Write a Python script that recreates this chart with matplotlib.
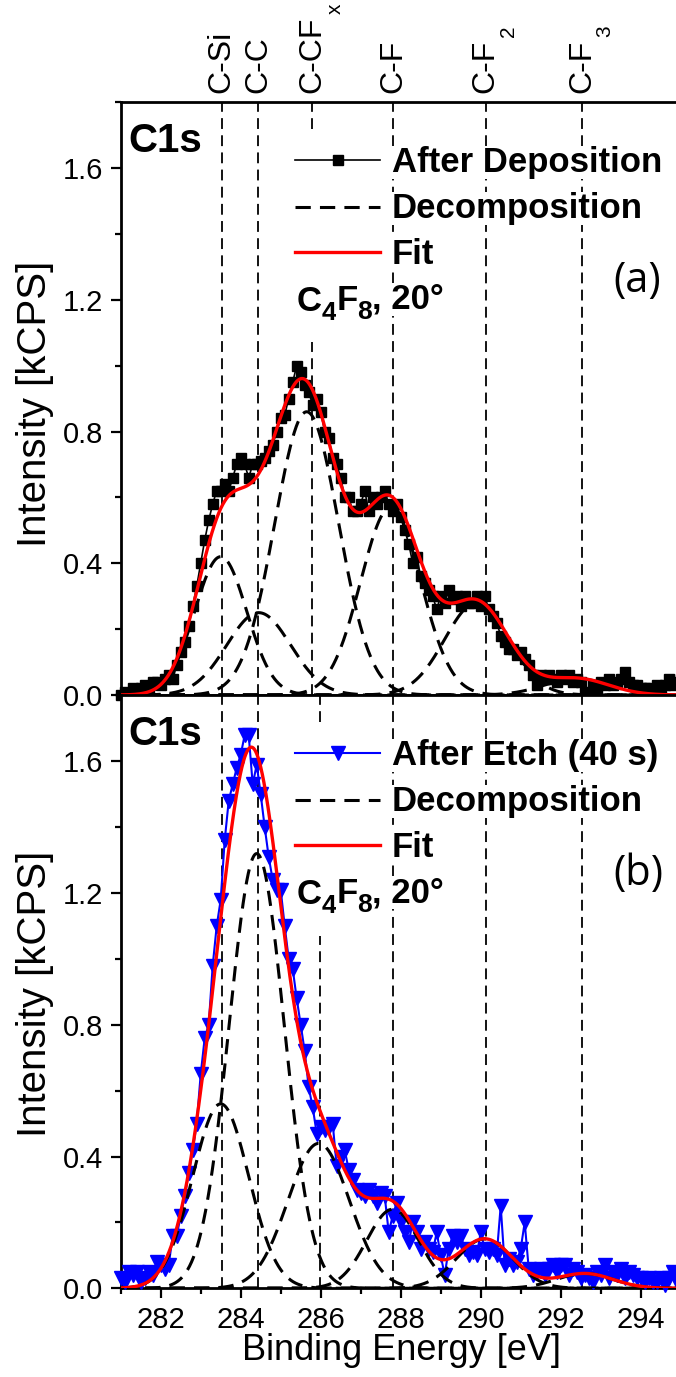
import numpy as np
import matplotlib
matplotlib.use("Agg")
import matplotlib.pyplot as plt
from matplotlib.ticker import MultipleLocator, FormatStrFormatter

plt.rcParams['font.family'] = ['Liberation Sans', 'DejaVu Sans']

# ---------------- data ----------------
energy = np.round(np.arange(281.0, 295.05, 0.1), 1)   # binding energy grid [eV]

# C1s after deposition (kCPS)
dep_counts = [
    0.00, 0.01, 0.00, 0.02, 0.015, 0.02, 0.03, 0.02, 0.04, 0.04,
    0.03, 0.05, 0.06, 0.05, 0.09, 0.13, 0.16, 0.21, 0.27, 0.33,
    0.40, 0.47, 0.53, 0.58, 0.62, 0.62, 0.64, 0.62, 0.66, 0.70,
    0.72, 0.70, 0.66, 0.70, 0.70, 0.71, 0.72, 0.74, 0.76, 0.80,
    0.84, 0.85, 0.90, 0.95, 1.00, 0.98, 0.94, 0.92, 0.88, 0.90,
    0.86, 0.80, 0.78, 0.72, 0.70, 0.66, 0.60, 0.60, 0.56, 0.56,
    0.58, 0.62, 0.56, 0.60, 0.58, 0.60, 0.62, 0.58, 0.56, 0.58,
    0.54, 0.50, 0.46, 0.40, 0.42, 0.36, 0.34, 0.32, 0.30, 0.26,
    0.30, 0.28, 0.32, 0.29, 0.30, 0.27, 0.30, 0.28, 0.28, 0.30,
    0.27, 0.30, 0.26, 0.24, 0.22, 0.18, 0.16, 0.14, 0.14, 0.12,
    0.13, 0.11, 0.09, 0.06, 0.03, 0.06, 0.05, 0.06, 0.05, 0.04,
    0.06, 0.05, 0.06, 0.04, 0.05, 0.04, 0.01, 0.00, 0.03, 0.02,
    0.04, 0.03, 0.05, 0.03, 0.04, 0.05, 0.07, 0.04, 0.03, 0.03,
    0.02, 0.02, 0.02, 0.01, 0.03, 0.02, 0.03, 0.05, 0.03, 0.04,
    0.05,
]

# C1s after etch, 40 s (kCPS)
etch_counts = [
    0.03, 0.02, 0.05, 0.04, 0.05, 0.02, 0.03, 0.05, 0.04, 0.08,
    0.07, 0.06, 0.07, 0.16, 0.16, 0.22, 0.28, 0.35, 0.42, 0.50,
    0.65, 0.76, 0.80, 0.98, 1.10, 1.18, 1.36, 1.48, 1.53, 1.58,
    1.62, 1.68, 1.68, 1.53, 1.59, 1.50, 1.40, 1.31, 1.24, 1.21,
    1.21, 1.10, 1.00, 0.97, 0.88, 0.80, 0.72, 0.61, 0.55, 0.47,
    0.49, 0.48, 0.49, 0.50, 0.37, 0.40, 0.42, 0.36, 0.33, 0.30,
    0.29, 0.28, 0.30, 0.28, 0.26, 0.29, 0.28, 0.17, 0.22, 0.26,
    0.20, 0.17, 0.14, 0.20, 0.17, 0.12, 0.14, 0.12, 0.11, 0.17,
    0.10, 0.04, 0.12, 0.16, 0.14, 0.16, 0.12, 0.10, 0.11, 0.10,
    0.17, 0.12, 0.11, 0.12, 0.10, 0.25, 0.07, 0.09, 0.07, 0.08,
    0.12, 0.20, 0.06, 0.04, 0.05, 0.06, 0.04, 0.06, 0.07, 0.05,
    0.07, 0.07, 0.04, 0.06, 0.05, 0.03, 0.04, 0.03, 0.02, 0.05,
    0.04, 0.07, 0.03, 0.05, 0.04, 0.06, 0.03, 0.05, 0.04, 0.03,
    0.03, 0.02, 0.03, 0.02, 0.02, 0.03, 0.01, 0.03, 0.05, 0.02,
    0.03,
]

# Gaussian decomposition: centre [eV], height [kCPS], FWHM [eV]
comp_center_a = [283.50, 284.45, 285.65, 287.75, 289.90, 292.40]
comp_height_a = [0.42, 0.25, 0.86, 0.57, 0.28, 0.05]
comp_fwhm_a = [1.53, 1.88, 1.88, 1.77, 1.88, 1.88]

comp_center_b = [283.50, 284.40, 285.95, 287.80, 290.10, 292.60]
comp_height_b = [0.56, 1.32, 0.44, 0.24, 0.15, 0.045]
comp_fwhm_b = [1.65, 1.62, 1.81, 1.53, 1.65, 1.65]

# chemical-state reference positions
bond_names = ['C-Si', 'C-C', 'C-CF', 'C-F', 'C-F', 'C-F']
bond_subs = ['', '', 'x', '', '2', '3']
bond_pos_a = [283.52, 284.44, 285.78, 287.81, 290.12, 292.53]
bond_pos_b = [283.52, 284.44, 285.97, 287.81, 290.12, 292.53]

legend_labels_a = ['After Deposition', 'Decomposition', 'Fit']
legend_labels_b = ['After Etch (40 s)', 'Decomposition', 'Fit']
# gas / angle note, written as (text, is_subscript) pieces
gas_note = [('C', False), ('4', True), ('F', False), ('8', True),
            (', 20°', False)]


def gauss(x, c, h, fwhm):
    return h * np.exp(-4.0 * np.log(2.0) * (x - c) ** 2 / fwhm ** 2)


# ---------------- layout ----------------
W, H = 676, 1377
fig = plt.figure(figsize=(W / 100, H / 100), dpi=100)
ax_left = 120.7 / W
ax_w = 560.0 / W
ax_h = 592.8 / H
ax_a = fig.add_axes([ax_left, 1 - 695.0 / H, ax_w, ax_h])
ax_b = fig.add_axes([ax_left, 1 - 1288.3 / H, ax_w, ax_h])

grid = np.linspace(281.0, 295.0, 1401)
AX_PX = 592.8
BOX = dict(boxstyle='square,pad=0.0', facecolor='white', edgecolor='none')


def fy(px):
    """axes-fraction height for a distance in pixels below the top spine"""
    return 1.0 - px / AX_PX


def gas_text(ax, x, y, size=25, sub_size=19, drop=7.0):
    """bold text with real subscripts, chained piece by piece"""
    desc_main = 0.212 * size
    desc_sub = 0.212 * sub_size
    prev = ax.text(x, y, gas_note[0][0], transform=ax.transAxes,
                   fontsize=size, fontweight='bold', ha='left',
                   va='baseline', bbox=BOX, zorder=8)
    prev_sub = False
    for txt, is_sub in gas_note[1:]:
        # shift from the previous piece's box bottom to the new baseline
        prev_bottom = (-drop - desc_sub) if prev_sub else -desc_main
        new_base = -drop if is_sub else 0.0
        prev = ax.annotate(txt, xy=(1.0, 0.0), xycoords=prev,
                           xytext=(0, new_base - prev_bottom),
                           textcoords='offset points',
                           fontsize=sub_size if is_sub else size,
                           fontweight='bold', ha='left', va='baseline',
                           bbox=BOX, zorder=8, annotation_clip=False)
        prev_sub = is_sub


def draw_panel(ax, counts, color, marker, msize, lw_data, labels, centers,
               heights, fwhms, bond_pos, tag):
    ax.set_xlim(281, 295)
    ax.set_ylim(0, 1.8)

    # reference lines; the C-CFx line leaves room for the legend block
    for i, xp in enumerate(bond_pos):
        if i == 2:
            ax.axvline(xp, 0.0, fy(240), color='black', lw=1.3,
                       dashes=(6, 3.5), zorder=1)
            ax.axvline(xp, fy(27), 1.0, color='black', lw=1.3,
                       dashes=(6, 3.5), zorder=1)
        else:
            ax.axvline(xp, color='black', lw=1.3, dashes=(6, 3.5), zorder=1)

    ax.plot(energy, counts, color=color, lw=lw_data, marker=marker, ms=msize,
            mec=color, mfc=color, zorder=3, clip_on=False)

    total = np.zeros_like(grid)
    for c, h, w in zip(centers, heights, fwhms):
        comp = gauss(grid, c, h, w)
        total += comp
        ax.plot(grid, comp, color='black', lw=2.2, dashes=(5, 3), zorder=4)
    ax.plot(grid, total, color='#ff0000', lw=2.4, zorder=5)

    # legend block
    hx0, hx1 = (295 - 120.7) / 560, (380 - 120.7) / 560
    tx = (391.7 - 120.7) / 560
    handle_y = [58, 104.5, 150]
    text_y = [70, 115.5, 162]
    tr = ax.transAxes
    ax.plot([hx0, hx1], [fy(handle_y[0])] * 2, color=color, lw=lw_data,
            transform=tr, clip_on=False, zorder=7)
    ax.plot([(hx0 + hx1) / 2], [fy(handle_y[0])], color=color, marker=marker,
            ms=msize, transform=tr, clip_on=False, zorder=7)
    ax.plot([hx0, hx1], [fy(handle_y[1])] * 2, color='black', lw=2.2,
            dashes=(5, 3), transform=tr, clip_on=False, zorder=7)
    ax.plot([hx0, hx1], [fy(handle_y[2])] * 2, color='#ff0000', lw=2.4,
            transform=tr, clip_on=False, zorder=7)
    for lab, ty in zip(labels, text_y):
        ax.text(tx, fy(ty), lab, transform=tr, fontsize=25, fontweight='bold',
                ha='left', va='baseline', bbox=BOX, zorder=8)
    gas_text(ax, (296.7 - 120.7) / 560, fy(208.5))

    ax.text(0.014, fy(49.5), 'C1s', transform=tr, fontsize=29,
            fontweight='bold', ha='left', va='baseline', zorder=8)
    ax.text((613 - 120.7) / 560, fy(190), tag, transform=tr, fontsize=30,
            family=['Open Sans', 'DejaVu Sans'], ha='left', va='baseline',
            zorder=8)

    # axes styling
    for side in ['left', 'bottom', 'top', 'right']:
        ax.spines[side].set_linewidth(2.0)
    ax.xaxis.set_major_locator(MultipleLocator(2))
    ax.xaxis.set_minor_locator(MultipleLocator(1))
    ax.yaxis.set_major_locator(MultipleLocator(0.4))
    ax.yaxis.set_minor_locator(MultipleLocator(0.2))
    ax.yaxis.set_major_formatter(FormatStrFormatter('%.1f'))
    ax.tick_params(which='major', direction='out', length=7.5, width=1.6,
                   labelsize=21, pad=5, top=False, right=False)
    ax.tick_params(which='minor', direction='out', length=4.5, width=1.6,
                   top=False, right=False)


draw_panel(ax_a, dep_counts, 'black', 's', 6.5, 1.2, legend_labels_a,
           comp_center_a, comp_height_a, comp_fwhm_a, bond_pos_a, '(a)')
draw_panel(ax_b, etch_counts, '#0000ff', 'v', 10, 1.5, legend_labels_b,
           comp_center_b, comp_height_b, comp_fwhm_b, bond_pos_b, '(b)')
ax_a.tick_params(labelbottom=False)

# bond labels above the top panel
for name, sub, xp in zip(bond_names, bond_subs, bond_pos_a):
    t = ax_a.text(xp, 1.0 + 9 / AX_PX, name, rotation=90, ha='center',
                  va='bottom', fontsize=23,
                  transform=ax_a.get_xaxis_transform(), clip_on=False)
    if sub:
        ax_a.annotate(sub, xy=(1.0, 1.0), xycoords=t, xytext=(-1, 2),
                      textcoords='offset points', rotation=90, ha='left',
                      va='bottom', fontsize=15, annotation_clip=False)

# axis titles
fig.text(402 / W, 1 - 1350 / H, 'Binding Energy [eV]', fontsize=26,
         ha='center', va='center')
for yc in (404, 994):
    fig.text(35 / W, 1 - yc / H, 'Intensity [kCPS]', fontsize=29,
             rotation=90, ha='center', va='center')

fig.savefig('out.png', dpi=100)
